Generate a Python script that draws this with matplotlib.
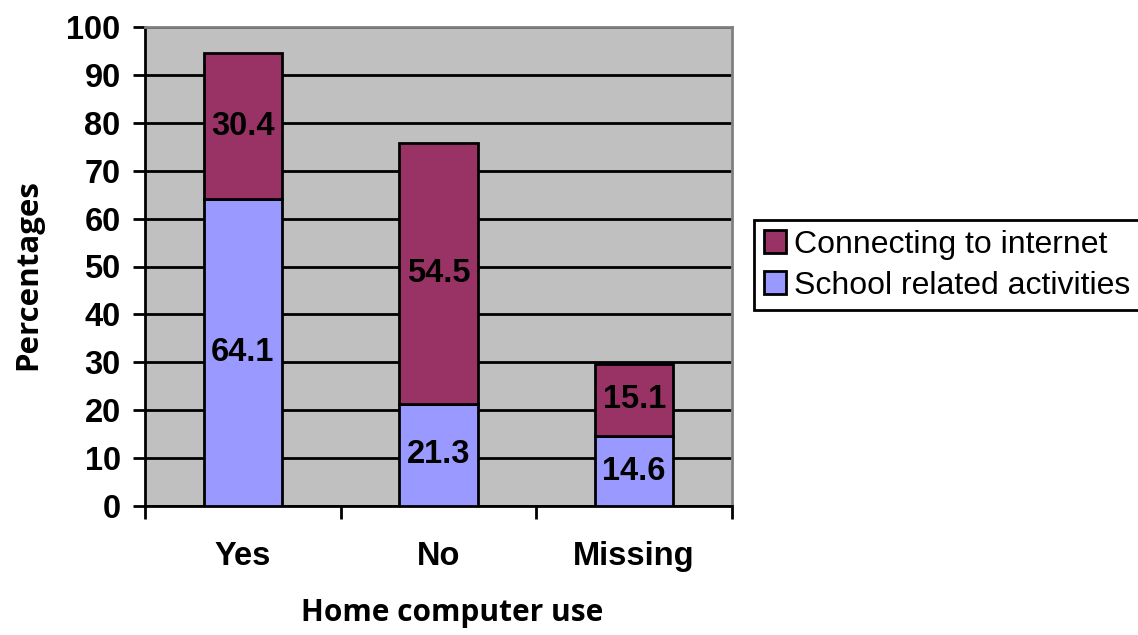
import matplotlib
matplotlib.use("Agg")
import matplotlib.pyplot as plt
from matplotlib.patches import Patch

categories = ["Yes", "No", "Missing"]
school = [64.1, 21.3, 14.6]
internet = [30.4, 54.5, 15.1]
series_names = ["Connecting to internet", "School related activities"]
yticks = list(range(0, 101, 10))

C_INTERNET = "#993366"
C_SCHOOL = "#9999FF"
C_BG = "#C0C0C0"
FS = 23.5

plt.rcParams["font.family"] = ["Liberation Sans", "DejaVu Sans"]

fig = plt.figure(figsize=(11.38, 6.35), dpi=100)
W, H = 1138, 635
ax = fig.add_axes([145 / W, (H - 506) / H, 587 / W, (506 - 27) / H])
ax.set_facecolor(C_BG)

xs = [i + 0.5 for i in range(len(categories))]
ax.bar(xs, school, width=0.4, color=C_SCHOOL, edgecolor="black", linewidth=2, zorder=3)
ax.bar(xs, internet, width=0.4, bottom=school, color=C_INTERNET, edgecolor="black",
       linewidth=2, zorder=3)

# value labels centred in each segment
for x, s, n in zip(xs, school, internet):
    ax.text(x, s / 2, f"{s:.1f}", ha="center", va="center", fontsize=FS,
            fontweight="bold", zorder=4)
    ax.text(x, s + n / 2, f"{n:.1f}", ha="center", va="center", fontsize=FS,
            fontweight="bold", zorder=4)

ax.set_xlim(0, 3)
ax.set_ylim(0, 100)
ax.set_yticks(yticks)
ax.set_yticklabels([str(t) for t in yticks], fontsize=FS, fontweight="bold")
ax.yaxis.grid(True, color="black", linewidth=2, zorder=1)
ax.set_axisbelow(True)

ax.set_xticks([0, 1, 2, 3])
ax.set_xticklabels([])
ax.set_xticks(xs, minor=True)
ax.set_xticklabels(categories, minor=True, fontsize=FS, fontweight="bold")
ax.tick_params(axis="x", which="minor", length=0, pad=25)
ax.tick_params(axis="x", which="major", direction="out", length=9, width=2)
ax.tick_params(axis="y", direction="out", length=8.5, width=2, pad=9)

for side in ("left", "bottom"):
    ax.spines[side].set_color("black")
    ax.spines[side].set_linewidth(2)
for side in ("top", "right"):
    ax.spines[side].set_color("#808080")
    ax.spines[side].set_linewidth(2)

fig.text(28 / W, 1 - 275 / H, "Percentages", rotation=90, ha="center", va="center",
         fontsize=22.5, fontweight="bold", family=["Open Sans", "DejaVu Sans"])
fig.text(452 / W, 1 - 613 / H, "Home computer use", ha="center", va="center",
         fontsize=21.5, fontweight="bold", family=["Open Sans", "DejaVu Sans"])

handles = [Patch(facecolor=C_INTERNET, edgecolor="black", linewidth=2),
           Patch(facecolor=C_SCHOOL, edgecolor="black", linewidth=2)]
leg = fig.legend(handles, series_names, loc="upper left",
                 bbox_to_anchor=(754 / W, 1 - 220 / H), fontsize=23,
                 handlelength=0.7, handleheight=0.7, handletextpad=0.25,
                 borderpad=0.3, labelspacing=0.35, borderaxespad=0,
                 fancybox=False, framealpha=1)
leg.get_frame().set_edgecolor("black")
leg.get_frame().set_linewidth(2)

fig.savefig("out.png", dpi=100)
